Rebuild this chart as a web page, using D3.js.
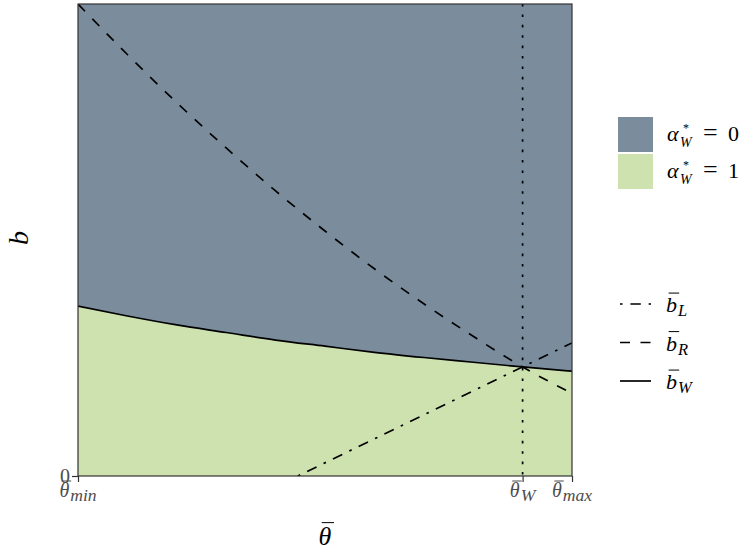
<!DOCTYPE html>
<html>
<head>
<meta charset="utf-8">
<script src="https://cdn.jsdelivr.net/npm/d3@7"></script>
<style>
  body { margin: 0; background: #fff; }
  svg { display: block; }
</style>
</head>
<body>
<svg id="chart" width="742" height="550"></svg>
<script>
// theta grid (normalised: theta_min = 0, theta_max = 1)
const thetaGrid = [0, 0.1, 0.2, 0.3, 0.4, 0.5, 0.6, 0.7, 0.8, 0.9, 1.0];
// threshold b_W (solid boundary between regions)
const bW = [0.360, 0.339, 0.320, 0.304, 0.288, 0.275, 0.262, 0.251, 0.241, 0.231, 0.222];
// threshold b_R (dashed)
const bR = [1.000, 0.893, 0.791, 0.695, 0.604, 0.519, 0.439, 0.365, 0.296, 0.231, 0.175];
// threshold b_L (dash-dot), straight line
const bLTheta = [0.445, 1.0];
const bL = [0.000, 0.282];
// marked theta values on the x axis
const tickThetas = [0, 0.9, 1.0];
const tickSubs = ["min", "W", "max"];
const thetaW = 0.9;
// y range
const bMax = 1.0;
// legend entries
const fillKeys = [{ val: "0", color: "#7b8d9c" }, { val: "1", color: "#cde2ae" }];
const lineKeys = [{ sub: "L", dash: "2.6,7.8,10.4,7.8" }, { sub: "R", dash: "10,10.5" }, { sub: "W", dash: null }];

const FONT = "Liberation Serif";

const svg = d3.select("#chart");
const m = { left: 78, right: 572, top: 4, bottom: 476 };
const x = d3.scaleLinear().domain([0, 1]).range([m.left, m.right]);
const y = d3.scaleLinear().domain([0, bMax]).range([m.bottom, m.top]);

const defs = svg.append("defs");
defs.append("clipPath").attr("id", "plotclip").append("rect")
  .attr("x", m.left).attr("y", m.top).attr("width", m.right - m.left).attr("height", m.bottom - m.top);

const plot = svg.append("g").attr("clip-path", "url(#plotclip)");
const wData = thetaGrid.map((t, i) => ({ t, b: bW[i] }));

// region above b_W (alpha = 0)
plot.append("path")
  .datum(wData)
  .attr("fill", fillKeys[0].color)
  .attr("d", d3.area().x(d => x(d.t)).y0(y(bMax)).y1(d => y(d.b)).curve(d3.curveMonotoneX));
// region below b_W (alpha = 1)
plot.append("path")
  .datum(wData)
  .attr("fill", fillKeys[1].color)
  .attr("d", d3.area().x(d => x(d.t)).y0(y(0)).y1(d => y(d.b)).curve(d3.curveMonotoneX));

// vertical dotted line at theta_W
plot.append("line")
  .attr("x1", x(thetaW)).attr("x2", x(thetaW))
  .attr("y1", y(bMax)).attr("y2", y(0))
  .attr("stroke", "#000").attr("stroke-width", 1.7)
  .attr("stroke-dasharray", "2.6,7.8");

const line = d3.line().x(d => x(d.t)).y(d => y(d.b)).curve(d3.curveMonotoneX);

plot.append("path")
  .datum(bLTheta.map((t, i) => ({ t, b: bL[i] })))
  .attr("fill", "none").attr("stroke", "#000").attr("stroke-width", 1.7)
  .attr("stroke-dasharray", lineKeys[0].dash)
  .attr("d", line);

plot.append("path")
  .datum(thetaGrid.map((t, i) => ({ t, b: bR[i] })))
  .attr("fill", "none").attr("stroke", "#000").attr("stroke-width", 1.7)
  .attr("stroke-dasharray", lineKeys[1].dash)
  .attr("d", line);

plot.append("path")
  .datum(wData)
  .attr("fill", "none").attr("stroke", "#000").attr("stroke-width", 1.7)
  .attr("d", line);

// panel border
svg.append("rect")
  .attr("x", m.left).attr("y", m.top)
  .attr("width", m.right - m.left).attr("height", m.bottom - m.top)
  .attr("fill", "none").attr("stroke", "#333").attr("stroke-width", 1.2);

// x axis ticks
const xAxis = d3.axisBottom(x).tickValues(tickThetas).tickSize(6).tickFormat("");
const gx = svg.append("g").attr("transform", `translate(0,${m.bottom})`).call(xAxis);
gx.select(".domain").remove();
gx.selectAll(".tick line").attr("stroke", "#333").attr("stroke-width", 1.2);

// y axis tick at 0
const yAxis = d3.axisLeft(y).tickValues([0]).tickSize(6).tickFormat(d3.format("d"));
const gy = svg.append("g").attr("transform", `translate(${m.left},0)`).call(yAxis);
gy.attr("font-family", FONT).attr("font-size", 20);
gy.select(".domain").remove();
gy.selectAll(".tick line").attr("stroke", "#333").attr("stroke-width", 1.2);
gy.selectAll(".tick text").attr("fill", "#4d4d4d").attr("x", -8);

// helper: symbol with overline and subscript
function barSymbol(g, opts) {
  const t = g.append("text")
    .attr("x", opts.x).attr("y", opts.y)
    .attr("text-anchor", opts.anchor || "start")
    .attr("fill", opts.color || "#000")
    .attr("font-family", FONT)
    .attr("font-size", opts.size);
  t.append("tspan").attr("font-style", "italic").text(opts.base);
  if (opts.sub) {
    t.append("tspan").attr("font-style", "italic")
      .attr("font-size", opts.size * (opts.subScale || 0.8))
      .attr("dx", opts.subDx || 0)
      .attr("dy", opts.size * 0.2).text(opts.sub);
  }
  const node = t.node();
  const s = node.getStartPositionOfChar(0);
  const e = node.getEndPositionOfChar(0);
  g.append("line")
    .attr("x1", s.x + opts.size * 0.12).attr("x2", e.x + opts.size * 0.1)
    .attr("y1", opts.y - opts.size * opts.bar).attr("y2", opts.y - opts.size * opts.bar)
    .attr("stroke", opts.color || "#000").attr("stroke-width", 1);
  return t;
}

// x tick labels
const tickLabels = svg.append("g");
tickThetas.forEach((v, i) => {
  barSymbol(tickLabels, {
    x: x(v), y: 497, anchor: "middle", base: "θ", sub: tickSubs[i],
    size: 20, subScale: 0.88, subDx: 1, color: "#4d4d4d", bar: 0.8
  });
});

// axis titles
barSymbol(svg, { x: 325, y: 545, anchor: "middle", base: "θ", size: 26, bar: 0.86 });
svg.append("text")
  .attr("transform", "translate(28,238) rotate(-90)")
  .attr("text-anchor", "middle")
  .attr("font-family", FONT).attr("font-size", 28).attr("font-style", "italic")
  .text("b");

// fill legend
const lg = svg.append("g");
fillKeys.forEach((k, i) => {
  const y0 = 117 + i * 37;
  lg.append("rect").attr("x", 618).attr("y", y0).attr("width", 35).attr("height", 35).attr("fill", k.color);
  const base = y0 + 24;
  const t = lg.append("text").attr("y", base)
    .attr("font-family", FONT).attr("font-size", 22);
  t.append("tspan").attr("x", 667).attr("font-style", "italic").text("α");
  t.append("tspan").attr("x", 683).attr("y", base - 9).attr("font-size", 12).text("*");
  t.append("tspan").attr("x", 680).attr("y", base + 6).attr("font-size", 14).attr("font-style", "italic").text("W");
  t.append("tspan").attr("x", 703).attr("y", base).attr("font-size", 26).text("=");
  t.append("tspan").attr("x", 728).attr("y", base).text(k.val);
});

// line legend
lineKeys.forEach((k, i) => {
  const yc = 304 + i * 38.5;
  lg.append("line").attr("x1", 620).attr("x2", 651).attr("y1", yc).attr("y2", yc)
    .attr("stroke", "#000").attr("stroke-width", 1.7)
    .attr("stroke-dasharray", k.dash);
  barSymbol(lg, { x: 666, y: yc + 8, base: "b", sub: k.sub, size: 22, subScale: 0.75, subDx: 1, bar: 0.86 });
});
</script>
</body>
</html>
